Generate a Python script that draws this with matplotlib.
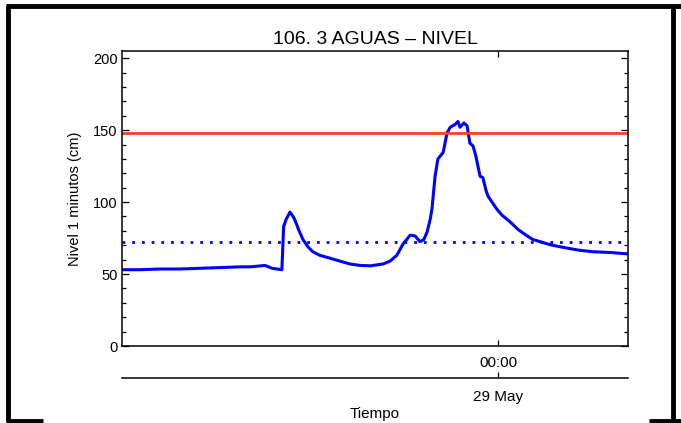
import numpy as np
import pandas as pd
import matplotlib
matplotlib.use('Agg')
import matplotlib.pyplot as plt
import matplotlib.dates as mdates
from matplotlib.lines import Line2D
from matplotlib.ticker import MultipleLocator

plt.rcParams['font.family'] = ['Liberation Sans', 'DejaVu Sans']

# time window shown on the chart
t_start = pd.Timestamp('2019-05-28 06:10')
t_end = pd.Timestamp('2019-05-29 06:10')

# level readings
times = ['05-28 06:10', '05-28 07:01', '05-28 07:58', '05-28 08:55', '05-28 09:52',
         '05-28 10:49', '05-28 11:46', '05-28 12:14', '05-28 12:37', '05-28 12:57',
         '05-28 13:17', '05-28 13:45', '05-28 13:50', '05-28 13:57', '05-28 14:08',
         '05-28 14:17', '05-28 14:23', '05-28 14:34', '05-28 14:45', '05-28 14:59',
         '05-28 15:13', '05-28 15:33', '05-28 16:02', '05-28 16:30', '05-28 16:59',
         '05-28 17:27', '05-28 17:56', '05-28 18:33', '05-28 18:53', '05-28 19:12',
         '05-28 19:30', '05-28 19:50', '05-28 20:04', '05-28 20:18', '05-28 20:29',
         '05-28 20:38', '05-28 20:47', '05-28 20:52', '05-28 21:01', '05-28 21:09',
         '05-28 21:24', '05-28 21:35', '05-28 21:44', '05-28 21:58', '05-28 22:06',
         '05-28 22:12', '05-28 22:23', '05-28 22:32', '05-28 22:40', '05-28 22:49',
         '05-28 22:57', '05-28 23:09', '05-28 23:17', '05-28 23:26', '05-28 23:32',
         '05-28 23:43', '05-28 23:57', '05-29 00:11', '05-29 00:26', '05-29 00:40',
         '05-29 00:57', '05-29 01:17', '05-29 01:39', '05-29 02:00', '05-29 02:28',
         '05-29 02:56', '05-29 03:17', '05-29 03:53', '05-29 04:30', '05-29 05:19',
         '05-29 06:10']
nivel = [53, 53, 53.5, 53.5, 54,
         54.5, 55, 55, 55.5, 56,
         54, 53, 83, 88, 93,
         90, 87, 80, 74, 69,
         65.5, 63, 61, 59, 57,
         56, 55.7, 57, 59, 63,
         71, 77, 76.5, 72.5, 74,
         79, 88, 95, 118, 130,
         134.5, 148, 152, 154, 156,
         152, 155, 153, 141, 139,
         132, 118, 117, 108, 104,
         100, 95, 91, 88, 85,
         81, 77.5, 74, 72.5, 70.4,
         69, 68, 66.5, 65.5, 65,
         64]
times = pd.to_datetime(['2019-' + t for t in times])

umbral_rojo = 148
umbral_azul = 72
tick_time = pd.Timestamp('2019-05-29 00:00')

W, H = 681, 423
fig = plt.figure(figsize=(W / 100, H / 100), dpi=100)
ax = fig.add_axes([122 / W, 1 - 346 / H, (628 - 122) / W, (346 - 51) / H])

ax.plot(times, nivel, color='#0000ff', lw=2.2, solid_joinstyle='round')
ax.axhline(umbral_rojo, color='#ff3b2a', lw=2.0)
ax.axhline(umbral_azul, color='#0000ff', lw=2.0, ls=(0, (1, 2.5)))

ax.set_xlim(t_start, t_end)
ax.set_ylim(0, 205)
ax.yaxis.set_major_locator(MultipleLocator(50))
ax.yaxis.set_minor_locator(MultipleLocator(10))
ax.set_xticks([mdates.date2num(tick_time)])
ax.xaxis.set_major_formatter(mdates.DateFormatter('%H:%M'))
ax.tick_params(axis='y', which='major', direction='in', length=5, width=0.9,
               right=True, labelsize=10.5, pad=3)
ax.tick_params(axis='y', which='minor', direction='in', length=3, width=0.9, right=True)
ax.tick_params(axis='x', direction='in', length=4, width=0.9, top=True, labelsize=11, pad=7)
for s in ax.spines.values():
    s.set_linewidth(1.1)

ax.set_title('106. 3 AGUAS \u2013 NIVEL', fontsize=14, pad=5)
ax.set_ylabel('Nivel 1 minutos (cm)', fontsize=10.5, labelpad=8)

# second date axis under the time axis
sec = ax.secondary_xaxis(-32 / 295)
sec.set_xticks([mdates.date2num(tick_time)])
sec.xaxis.set_major_formatter(mdates.DateFormatter('%d %b'))
sec.tick_params(axis='x', direction='in', length=4, width=0.9, labelsize=11, pad=9)
sec.spines['bottom'].set_linewidth(1.1)
sec.set_xlabel('Tiempo', fontsize=11, labelpad=2)

# outer frame
k = dict(color='black', lw=3.5, transform=fig.transFigure, solid_capstyle='butt')
fig.add_artist(Line2D([8 / W, 8 / W], [1 - 6 / H, 1 - 421 / H], **k))
fig.add_artist(Line2D([6 / W, 1], [1 - 6 / H, 1 - 6 / H], **k))
fig.add_artist(Line2D([673 / W, 673 / W], [1 - 6 / H, 1 - 421 / H], **k))
fig.add_artist(Line2D([6 / W, 43 / W], [1 - 421 / H, 1 - 421 / H], **k))
fig.add_artist(Line2D([649 / W, 1], [1 - 421 / H, 1 - 421 / H], **k))

fig.savefig('out.png', dpi=100)
